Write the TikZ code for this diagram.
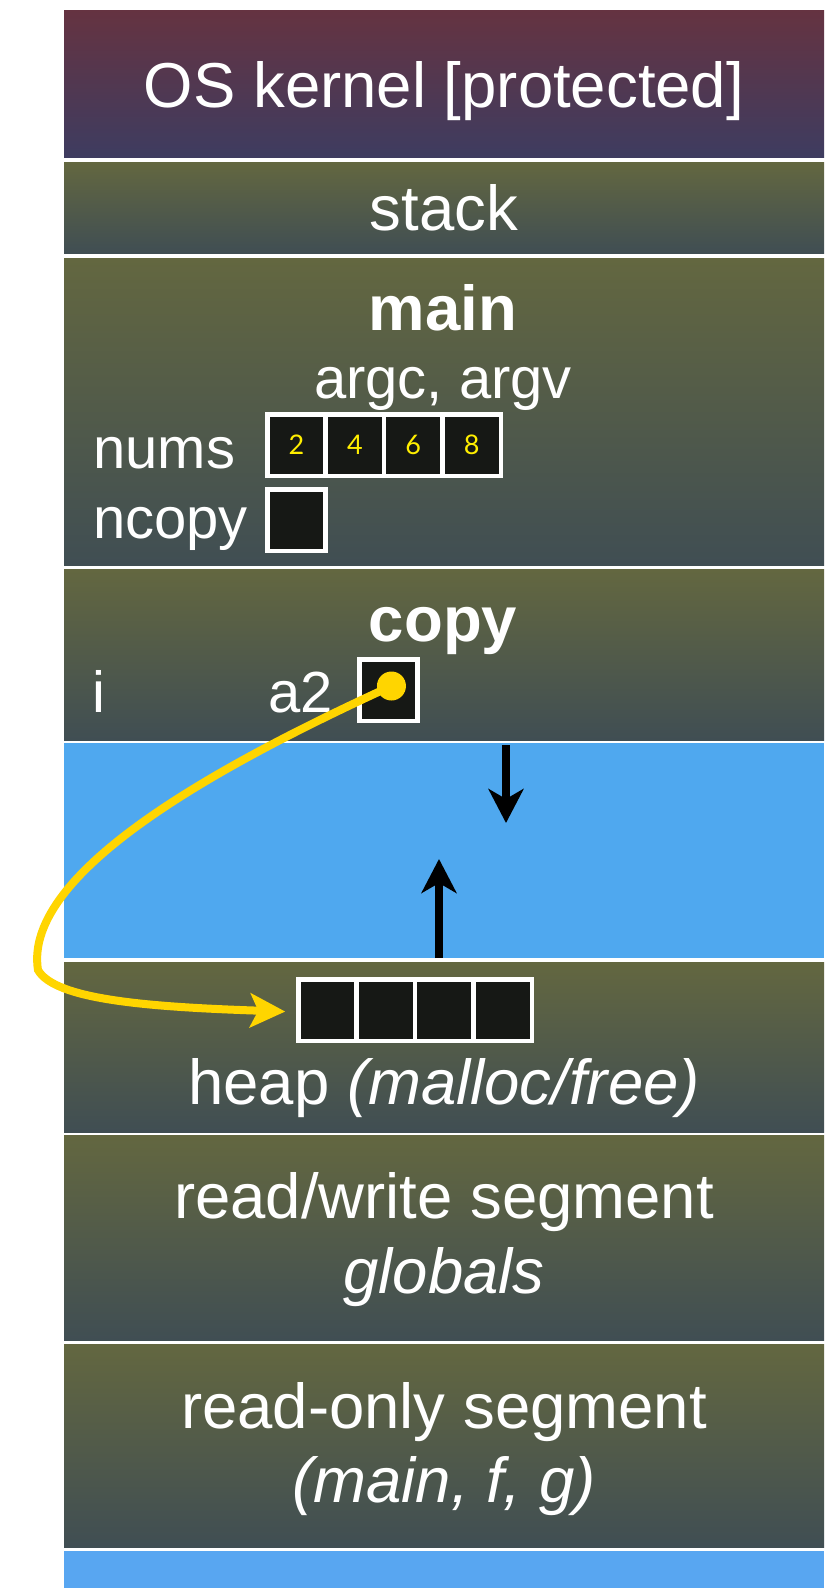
\documentclass[tikz,border=0pt]{standalone}
\usepackage{fontspec}
\setmainfont{Liberation Sans}
\newfontfamily\numfont{Lato}
\usetikzlibrary{arrows.meta}
\definecolor{segtop}{RGB}{99,103,64}
\definecolor{segbot}{RGB}{64,78,83}
\definecolor{kertop}{RGB}{101,51,65}
\definecolor{kerbot}{RGB}{62,60,96}
\definecolor{freeblue}{RGB}{79,168,239}
\definecolor{freeblue2}{RGB}{88,166,241}
\definecolor{cellfill}{RGB}{22,24,21}
\definecolor{numyellow}{RGB}{255,238,0}
\definecolor{ptryellow}{RGB}{255,213,0}
\newcommand\lblbig{\fontsize{63.5}{70}\selectfont}
\newcommand\lblvar{\fontsize{58}{64}\selectfont}
\newcommand\lblnum{\numfont\fontsize{27}{30}\selectfont}
\begin{document}
\begin{tikzpicture}[x=1pt,y=-1pt,
  seg/.style={anchor=north west, inner sep=0pt, outer sep=0pt, minimum width=760pt, top color=segtop, bottom color=segbot, shading angle=0},
  freebox/.style={anchor=north west, inner sep=0pt, outer sep=0pt, minimum width=760pt, fill=freeblue},
  biglbl/.style={anchor=base, text=white, font=\lblbig, inner sep=0pt},
  boldlbl/.style={anchor=base, text=white, font=\lblbig\bfseries, inner sep=0pt},
  varlbl/.style={anchor=base west, text=white, font=\lblvar, inner sep=0pt},
  cell/.style={draw=white, line width=4.5pt, fill=cellfill, minimum width=58.4pt, minimum height=61.5pt, inner sep=0pt, outer sep=0pt, anchor=north west},
  numlbl/.style={text=numyellow, font=\lblnum, inner sep=0pt},
  ptr/.style={draw=ptryellow, line width=8pt, -{Stealth[length=35pt,width=34pt,inset=8pt]}},
  growarrow/.style={draw=black, line width=8pt, -{Stealth[length=34pt,width=35pt,inset=10pt]}},
  dotnode/.style={circle, fill=ptryellow, minimum size=29pt, inner sep=0pt}
]
\fill[white] (0,0) rectangle (836,1588);
\useasboundingbox (0,0) rectangle (836,1588);

% segments
\node[seg, top color=kertop, bottom color=kerbot, minimum height=147pt] (kernel) at (64,10) {};
\node[seg, minimum height=91pt] (stack) at (64,162) {};
\node[seg, minimum height=307pt] (mainf) at (64,258) {};
\node[seg, minimum height=171pt] (copyf) at (64,569) {};
\node[freebox, minimum height=215pt] (free) at (64,743) {};
\node[seg, minimum height=170pt] (heap) at (64,962) {};
\node[seg, minimum height=205pt] (rw) at (64,1135) {};
\node[seg, minimum height=203pt] (ro) at (64,1344) {};
\node[freebox, fill=freeblue2, minimum height=37pt] (free2) at (64,1551) {};

% labels
\node[biglbl] (tkernel) at (444,107) {OS kernel [protected]};
\node[biglbl] (tstack) at (444,230) {stack};
\node[boldlbl] (tmain) at (443,330) {main};
\node[biglbl, font=\lblvar] (targs) at (443,398) {argc, argv};
\node[varlbl] (tnums) at (93,468) {nums};
\node[varlbl] (tncopy) at (93,538) {ncopy};
\node[boldlbl] (tcopy) at (443,641) {copy};
\node[varlbl] (ti) at (92,712) {i};
\node[varlbl] (ta2) at (268,712) {a2};
\node[biglbl] (theap) at (444,1104) {heap \textit{(malloc/free)}};
\node[biglbl] (trw) at (444,1218) {read/write segment};
\node[biglbl] (tglob) at (444,1293) {\textit{globals}};
\node[biglbl] (tro) at (444,1428) {read-only segment};
\node[biglbl] (tmfg) at (444,1502) {\textit{(main, f, g)}};

% nums array
\node[cell] (n1) at (267.25,414.25) {};
\node[cell] (n2) at (325.65,414.25) {};
\node[cell] (n3) at (384.05,414.25) {};
\node[cell] (n4) at (442.45,414.25) {};
\node[numlbl] (v1) at (n1.center) {2};
\node[numlbl] (v2) at (n2.center) {4};
\node[numlbl] (v3) at (n3.center) {6};
\node[numlbl] (v4) at (n4.center) {8};

% ncopy
\node[cell] (nc) at (267.25,489.25) {};

% a2
\node[cell] (a2) at (359.25,659.25) {};

% heap array
\node[cell] (h1) at (298.25,979.25) {};
\node[cell] (h2) at (356.65,979.25) {};
\node[cell] (h3) at (415.05,979.25) {};
\node[cell] (h4) at (473.45,979.25) {};

% growth arrows
\coordinate (dtop) at (506,745);
\coordinate (dtip) at (506,823);
\coordinate (ubot) at (439,958);
\coordinate (utip) at (439,859);
\draw[growarrow] (dtop) -- (dtip);
\draw[growarrow] (ubot) -- (utip);

% pointer
\draw[ptr, shorten >=13pt] ([xshift=3pt,yshift=4pt]a2.center) .. controls (230,760) and (22,870) .. (38,970)
  .. controls (55,1000) and (150,1007) .. ([yshift=-2pt]h1.west);
\node[dotnode] (dot) at ([xshift=3pt,yshift=4pt]a2.center) {};
\end{tikzpicture}
\end{document}
